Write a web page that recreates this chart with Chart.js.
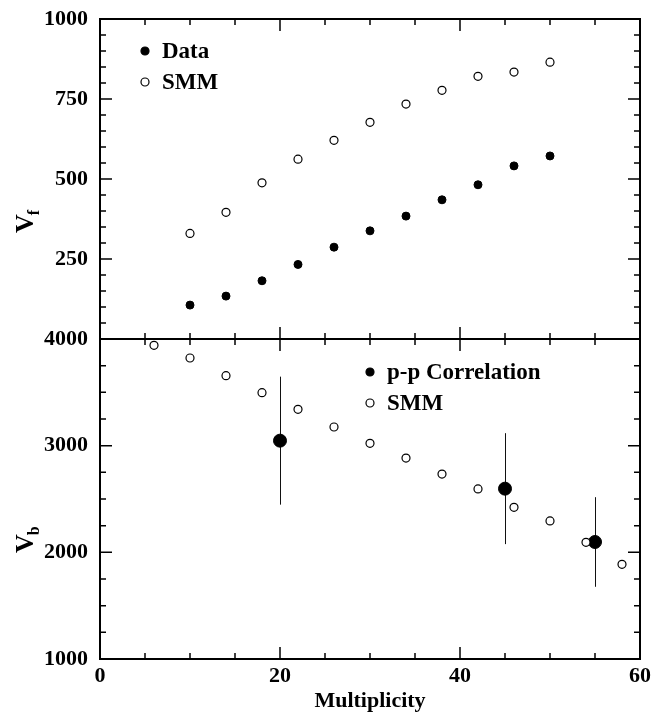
<!DOCTYPE html>
<html>
<head>
<meta charset="utf-8">
<script src="https://cdn.jsdelivr.net/npm/chart.js@4"></script>
<style>
  html, body { margin: 0; padding: 0; background: #fff; }
  canvas { display: block; }
</style>
</head>
<body>
<canvas id="chart" width="651" height="717"></canvas>
<script>
// upper panel: V_f vs multiplicity
const multTop = [10, 14, 18, 22, 26, 30, 34, 38, 42, 46, 50];
const dataVf = [106, 134, 182, 233, 287, 338, 384, 435, 482, 541, 572];
const smmVf = [330, 396, 488, 562, 621, 677, 734, 777, 821, 834, 865];

// lower panel: V_b vs multiplicity
const multSmmB = [6, 10, 14, 18, 22, 26, 30, 34, 38, 42, 46, 50, 54, 58];
const smmVb = [3941, 3822, 3656, 3497, 3341, 3175, 3022, 2884, 2734, 2594, 2422, 2294, 2094, 1888];
const multPP = [20, 45, 55];
const ppVb = [3047, 2597, 2097];
const ppErr = [600, 520, 420];

// tick labels
const xTicks = [0, 20, 40, 60];
const topTicks = [250, 500, 750, 1000];
const bottomTicks = [1000, 2000, 3000, 4000];

const SERIF = "'Liberation Serif', 'Times New Roman', serif";
const tickFont = { family: SERIF, weight: "bold", size: 22 };

const toPoints = (xs, ys) => xs.map((x, i) => ({ x: x, y: ys[i] }));

// frame, inward ticks, error bars, legends and y titles
const panelPlugin = {
  id: "panels",
  beforeDatasetsDraw(chart) {
    const { ctx, scales } = chart;
    const x = scales.x, yb = scales.yb;
    ctx.save();
    ctx.strokeStyle = "#111";
    ctx.lineWidth = 1;
    multPP.forEach((m, i) => {
      const px = Math.round(x.getPixelForValue(m)) + 0.5;
      ctx.beginPath();
      ctx.moveTo(px, yb.getPixelForValue(ppVb[i] + ppErr[i]));
      ctx.lineTo(px, yb.getPixelForValue(ppVb[i] - ppErr[i]));
      ctx.stroke();
    });
    ctx.restore();
  },
  afterDraw(chart) {
    const { ctx, chartArea, scales } = chart;
    const x = scales.x, yt = scales.yt, yb = scales.yb;
    const L = chartArea.left, R = chartArea.right;
    ctx.save();
    ctx.strokeStyle = "#000";

    // x ticks on all four horizontal edges
    ctx.lineWidth = 1.5;
    for (let v = 0; v <= 60; v += 5) {
      const px = x.getPixelForValue(v);
      const len = v % 20 === 0 ? 12 : 6;
      [[yt.top, 1], [yt.bottom, -1], [yb.top, 1], [yb.bottom, -1]].forEach(([y0, d]) => {
        ctx.beginPath();
        ctx.moveTo(px, y0);
        ctx.lineTo(px, y0 + d * len);
        ctx.stroke();
      });
    }
    // y ticks, left and right
    const yTicks = (scale, step, major) => {
      for (let v = scale.min; v <= scale.max; v += step) {
        const py = scale.getPixelForValue(v);
        const len = v % major === 0 ? 12 : 6;
        ctx.beginPath();
        ctx.moveTo(L, py); ctx.lineTo(L + len, py);
        ctx.moveTo(R, py); ctx.lineTo(R - len, py);
        ctx.stroke();
      }
    };
    yTicks(yt, 50, 250);
    yTicks(yb, 250, 1000);

    // frames
    ctx.lineWidth = 2;
    ctx.strokeRect(L, yt.top, R - L, yt.bottom - yt.top);
    ctx.strokeRect(L, yb.top, R - L, yb.bottom - yb.top);

    // legends
    const legend = (lx, ly, items) => {
      items.forEach((it, i) => {
        const cy = ly + i * 31;
        ctx.beginPath();
        ctx.arc(lx, cy, 4, 0, Math.PI * 2);
        ctx.fillStyle = it.filled ? "#000" : "#fff";
        ctx.fill();
        ctx.lineWidth = 1.2;
        ctx.stroke();
        ctx.fillStyle = "#000";
        ctx.font = "bold 23px " + SERIF;
        ctx.textAlign = "left";
        ctx.textBaseline = "middle";
        ctx.fillText(it.label, lx + 17, cy + 1);
      });
    };
    legend(L + 45, yt.top + 32, [{ label: "Data", filled: true }, { label: "SMM", filled: false }]);
    legend(L + 270, yb.top + 33, [{ label: "p-p Correlation", filled: true }, { label: "SMM", filled: false }]);

    // y axis titles with subscripts, rotated
    const yTitle = (main, sub, cx, cy) => {
      ctx.save();
      ctx.translate(cx, cy);
      ctx.rotate(-Math.PI / 2);
      ctx.fillStyle = "#000";
      ctx.textAlign = "left";
      ctx.textBaseline = "alphabetic";
      ctx.font = "bold 26px " + SERIF;
      ctx.fillText(main, 0, 0);
      const w = ctx.measureText(main).width;
      ctx.font = "bold 16px " + SERIF;
      ctx.fillText(sub, w - 1, 6);
      ctx.restore();
    };
    yTitle("V", "f", 33, 233);
    yTitle("V", "b", 33, 553);
    ctx.restore();
  }
};

const yCommon = {
  type: "linear",
  position: "left",
  stack: "panels",
  stackWeight: 1,
  grid: { display: false, drawTicks: false },
  border: { display: false },
  ticks: { color: "#000", font: tickFont, padding: 12, callback: v => String(v) },
  afterFit: s => { s.width = 100; s.paddingTop = 0; s.paddingBottom = 0; }
};

new Chart(document.getElementById("chart"), {
  type: "scatter",
  data: {
    datasets: [
      {
        label: "Data",
        data: toPoints(multTop, dataVf),
        yAxisID: "yt",
        pointRadius: 4,
        backgroundColor: "#000",
        borderColor: "#000",
        borderWidth: 1
      },
      {
        label: "SMM",
        data: toPoints(multTop, smmVf),
        yAxisID: "yt",
        pointRadius: 4,
        backgroundColor: "#fff",
        borderColor: "#000",
        borderWidth: 1.2
      },
      {
        label: "SMM",
        data: toPoints(multSmmB, smmVb),
        yAxisID: "yb",
        pointRadius: 4,
        backgroundColor: "#fff",
        borderColor: "#000",
        borderWidth: 1.2
      },
      {
        label: "p-p Correlation",
        data: toPoints(multPP, ppVb),
        yAxisID: "yb",
        pointRadius: 6.5,
        backgroundColor: "#000",
        borderColor: "#000",
        borderWidth: 1
      }
    ]
  },
  options: {
    responsive: false,
    animation: false,
    events: [],
    layout: { padding: { top: 19, right: 11, left: 0, bottom: 0 } },
    plugins: {
      legend: { display: false },
      tooltip: { enabled: false }
    },
    scales: {
      x: {
        type: "linear",
        min: 0,
        max: 60,
        afterBuildTicks: s => { s.ticks = xTicks.map(v => ({ value: v })); },
        grid: { display: false, drawTicks: false },
        border: { display: false },
        ticks: { color: "#000", font: tickFont, padding: 4, callback: v => String(v) },
        title: {
          display: true,
          text: "Multiplicity",
          color: "#000",
          font: { family: SERIF, weight: "bold", size: 22 },
          padding: { top: 0, bottom: 2 }
        },
        afterFit: s => { s.height = 58; s.paddingLeft = 0; s.paddingRight = 0; }
      },
      yb: Object.assign({}, yCommon, {
        min: 1000,
        max: 4000,
        afterBuildTicks: s => { s.ticks = bottomTicks.map(v => ({ value: v })); }
      }),
      yt: Object.assign({}, yCommon, {
        min: 0,
        max: 1000,
        afterBuildTicks: s => { s.ticks = topTicks.map(v => ({ value: v })); }
      })
    }
  },
  plugins: [panelPlugin]
});
</script>
</body>
</html>
